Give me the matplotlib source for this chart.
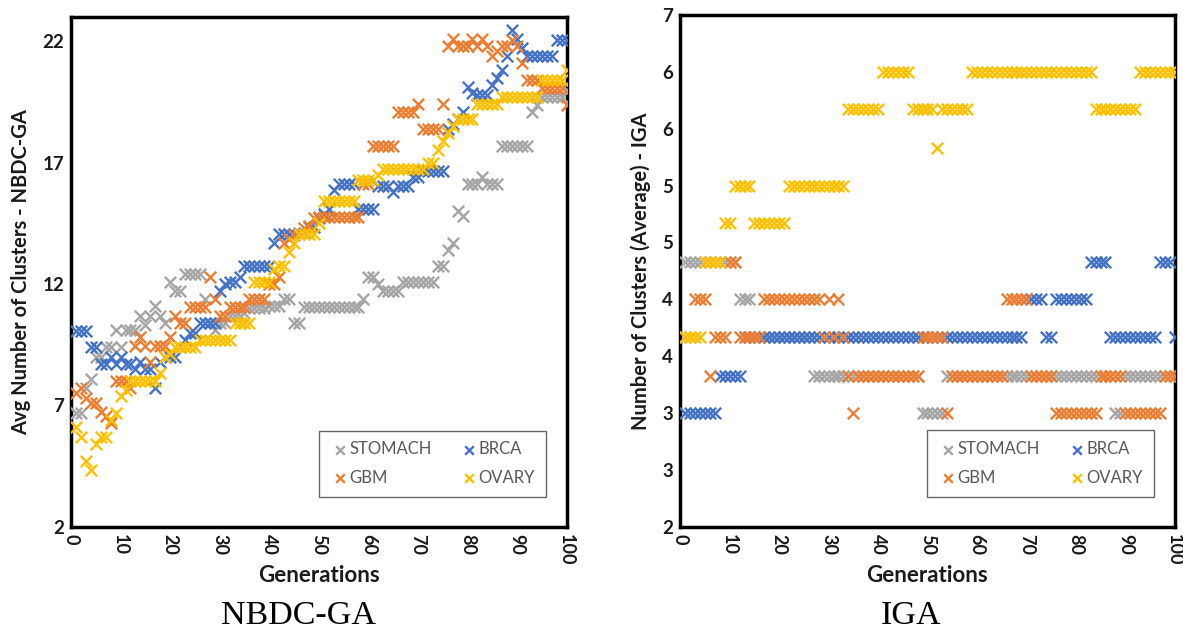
import matplotlib
matplotlib.use("Agg")
from matplotlib import pyplot as plt

plt.rcParams['font.family'] = ['Lato', 'DejaVu Sans']

gens = list(range(1, 101))
names = ['STOMACH', 'BRCA', 'GBM', 'OVARY']
colors = ['#A5A5A5', '#4472C4', '#ED7D31', '#FFC000']

# NBDC-GA, avg clusters per generation
nb_stomach = [6.7, 6.7, 7.7, 8.1, 9.0, 9.0, 9.4, 9.4, 10.1, 9.4,
              10.1, 10.1, 10.1, 10.7, 10.3, 10.7, 11.1, 10.7, 10.4, 12.1,
              11.7, 11.7, 12.4, 12.4, 12.4, 12.4, 11.4, 10.4, 10.1, 10.4,
              10.4, 10.7, 10.7, 10.7, 10.8, 11.0, 11.0, 11.0, 11.0, 11.1,
              11.1, 11.1, 11.4, 11.4, 10.4, 10.4, 11.05, 11.05, 11.05, 11.05,
              11.05, 11.05, 11.05, 11.05, 11.05, 11.05, 11.05, 11.05, 11.4, 12.3,
              12.3, 12.0, 11.7, 11.7, 11.7, 11.7, 12.1, 12.1, 12.1, 12.1,
              12.1, 12.1, 12.1, 12.75, 12.75, 13.4, 13.7, 15.0, 14.8, 16.1,
              16.1, 16.1, 16.4, 16.1, 16.1, 16.1, 17.7, 17.7, 17.7, 17.7,
              17.7, 17.7, 19.1, 19.35, 19.7, 19.7, 19.7, 19.7, 19.7, 20.0]
nb_brca = [10.06, 10.06, 10.06, 9.4, 9.4, 8.7, 8.7, 9.0, 8.7, 9.0,
           8.7, 8.7, 8.5, 8.8, 8.5, 8.5, 7.7, 8.8, 9.0, 9.0,
           9.0, 9.4, 9.7, 10.0, 10.0, 10.4, 10.4, 10.4, 10.4, 11.7,
           12.0, 12.1, 12.1, 12.3, 12.75, 12.75, 12.75, 12.75, 12.75, 12.75,
           13.7, 14.07, 14.07, 14.07, 14.07, 14.07, 14.1, 14.35, 14.35, 14.7,
           14.9, 15.1, 15.85, 16.1, 16.1, 16.1, 16.1, 15.1, 15.1, 15.1,
           15.1, 16.05, 16.05, 16.05, 15.8, 16.05, 16.05, 16.05, 16.4, 16.4,
           16.65, 16.65, 16.65, 16.65, 16.65, 18.4, 18.6, 18.8, 19.1, 20.1,
           19.85, 19.8, 19.8, 19.8, 20.2, 20.5, 20.8, 21.4, 22.45, 22.1,
           21.7, 21.4, 21.4, 21.4, 21.4, 21.4, 21.4, 22.05, 22.05, 22.05]
nb_gbm = [7.5, 7.7, 7.3, 7.1, 7.1, 6.75, 6.55, 6.3, 8.0, 8.0,
          8.0, 7.7, 9.45, 9.8, 9.45, 8.8, 9.45, 9.45, 9.45, 9.8,
          10.7, 10.4, 10.4, 11.05, 11.05, 11.05, 11.05, 12.3, 11.4, 10.7,
          10.7, 11.05, 11.05, 11.05, 11.05, 11.4, 11.4, 11.4, 11.4, 12.0,
          12.0, 12.3, 13.7, 13.85, 14.0, 14.1, 14.3, 14.4, 14.7, 14.77,
          14.77, 14.77, 14.77, 14.77, 14.77, 14.77, 14.77, 14.77, 16.1, 16.1,
          17.7, 17.7, 17.7, 17.7, 17.7, 19.07, 19.07, 19.07, 19.07, 19.4,
          18.4, 18.4, 18.4, 18.4, 19.4, 21.8, 22.1, 21.8, 21.8, 21.8,
          22.1, 21.8, 22.1, 21.8, 21.4, 21.6, 21.8, 21.8, 22.05, 21.8,
          21.1, 20.4, 20.4, 20.4, 20.05, 20.05, 20.05, 20.05, 20.05, 19.35]
nb_ovary = [6.1, 5.7, 4.7, 4.35, 5.4, 5.7, 5.7, 6.4, 6.7, 7.4,
            7.65, 8.0, 8.0, 8.0, 8.0, 8.0, 8.0, 8.35, 9.0, 9.1,
            9.4, 9.4, 9.4, 9.4, 9.4, 9.7, 9.7, 9.7, 9.7, 9.7,
            9.7, 9.7, 10.4, 10.4, 10.4, 10.4, 12.1, 12.1, 12.1, 12.1,
            12.6, 12.75, 12.75, 13.3, 13.7, 14.07, 14.07, 14.07, 14.07, 14.5,
            15.4, 15.4, 15.4, 15.4, 15.4, 15.4, 15.4, 16.3, 16.3, 16.3,
            16.3, 16.5, 16.75, 16.75, 16.75, 16.75, 16.75, 16.75, 16.75, 16.75,
            16.75, 17.0, 17.0, 17.5, 17.9, 18.2, 18.5, 18.8, 18.8, 18.8,
            18.8, 19.4, 19.4, 19.4, 19.4, 19.4, 19.7, 19.7, 19.7, 19.7,
            19.7, 19.7, 19.7, 19.7, 20.4, 20.4, 20.4, 20.4, 20.4, 20.8]

# IGA, avg clusters per generation
iga_stomach = [4.33, 4.33, 4.33, 4.33, 4.33, 4.33, 4.33, 4.33, 4.33, 4.33,
               4.33, 4.0, 4.0, 4.0, 3.67, 3.67, 3.67, 3.67, 3.67, 3.67,
               3.67, 3.67, 3.67, 3.67, 3.67, 3.67, 3.33, 3.33, 3.33, 3.33,
               3.33, 3.33, 3.33, 3.33, 3.33, 3.33, 3.33, 3.33, 3.33, 3.33,
               3.33, 3.33, 3.33, 3.33, 3.33, 3.33, 3.33, 3.33, 3.0, 3.0,
               3.0, 3.0, 3.0, 3.33, 3.33, 3.33, 3.33, 3.33, 3.33, 3.33,
               3.33, 3.33, 3.33, 3.33, 3.33, 3.33, 3.33, 3.33, 3.33, 3.33,
               3.33, 3.33, 3.33, 3.33, 3.33, 3.33, 3.33, 3.33, 3.33, 3.33,
               3.33, 3.33, 3.33, 3.33, 3.33, 3.33, 3.33, 3.0, 3.0, 3.33,
               3.33, 3.33, 3.33, 3.33, 3.33, 3.33, 3.33, 3.33, 3.33, 3.33]
iga_brca = [3.0, 3.0, 3.0, 3.0, 3.0, 3.0, 3.0, 3.33, 3.33, 3.33,
            3.33, 3.33, 3.67, 3.67, 3.67, 3.67, 3.67, 3.67, 3.67, 3.67,
            3.67, 3.67, 3.67, 3.67, 3.67, 3.67, 3.67, 3.67, 3.67, 3.67,
            3.67, 3.67, 3.67, 3.67, 3.67, 3.67, 3.67, 3.67, 3.67, 3.67,
            3.67, 3.67, 3.67, 3.67, 3.67, 3.67, 3.67, 3.67, 3.67, 3.67,
            3.67, 3.67, 3.67, 3.67, 3.67, 3.67, 3.67, 3.67, 3.67, 3.67,
            3.67, 3.67, 3.67, 3.67, 3.67, 3.67, 3.67, 3.67, 3.67, 4.0,
            4.0, 4.0, 4.0, 3.67, 3.67, 4.0, 4.0, 4.0, 4.0, 4.0,
            4.0, 4.0, 4.33, 4.33, 4.33, 4.33, 3.67, 3.67, 3.67, 3.67,
            3.67, 3.67, 3.67, 3.67, 3.67, 3.67, 4.33, 4.33, 4.33, 3.67]
iga_gbm = [3.67, 3.67, 4.0, 4.0, 4.0, 3.33, 3.67, 3.67, 3.67, 4.33,
           4.33, 3.67, 3.67, 3.67, 3.67, 3.67, 4.0, 4.0, 4.0, 4.0,
           4.0, 4.0, 4.0, 4.0, 4.0, 4.0, 4.0, 4.0, 3.67, 4.0,
           3.67, 4.0, 3.67, 3.33, 3.0, 3.33, 3.33, 3.33, 3.33, 3.33,
           3.33, 3.33, 3.33, 3.33, 3.33, 3.33, 3.33, 3.33, 3.67, 3.67,
           3.67, 3.67, 3.67, 3.0, 3.33, 3.33, 3.33, 3.33, 3.33, 3.33,
           3.33, 3.33, 3.33, 3.33, 3.33, 4.0, 4.0, 4.0, 4.0, 4.0,
           3.33, 3.33, 3.33, 3.33, 3.33, 3.0, 3.0, 3.0, 3.0, 3.0,
           3.0, 3.0, 3.0, 3.0, 3.33, 3.33, 3.33, 3.33, 3.33, 3.0,
           3.0, 3.0, 3.0, 3.0, 3.0, 3.0, 3.0, 3.33, 3.33, 3.33]
iga_ovary = [3.67, 3.67, 3.67, 3.67, 4.33, 4.33, 4.33, 4.33, 4.67, 4.67,
             5.0, 5.0, 5.0, 5.0, 4.67, 4.67, 4.67, 4.67, 4.67, 4.67,
             4.67, 5.0, 5.0, 5.0, 5.0, 5.0, 5.0, 5.0, 5.0, 5.0,
             5.0, 5.0, 5.0, 5.67, 5.67, 5.67, 5.67, 5.67, 5.67, 5.67,
             6.0, 6.0, 6.0, 6.0, 6.0, 6.0, 5.67, 5.67, 5.67, 5.67,
             5.67, 5.33, 5.67, 5.67, 5.67, 5.67, 5.67, 5.67, 6.0, 6.0,
             6.0, 6.0, 6.0, 6.0, 6.0, 6.0, 6.0, 6.0, 6.0, 6.0,
             6.0, 6.0, 6.0, 6.0, 6.0, 6.0, 6.0, 6.0, 6.0, 6.0,
             6.0, 6.0, 6.0, 5.67, 5.67, 5.67, 5.67, 5.67, 5.67, 5.67,
             5.67, 5.67, 6.0, 6.0, 6.0, 6.0, 6.0, 6.0, 6.0, 6.0]

left_yticks = [2, 7, 12, 17, 22]
right_yticks = [2, 2.5, 3, 3.5, 4, 4.5, 5, 5.5, 6, 6.5]
right_ylabels = ['2', '3', '3', '4', '4', '5', '5', '6', '6', '7']
xticks = [0, 10, 20, 30, 40, 50, 60, 70, 80, 90, 100]

fig = plt.figure(figsize=(11.83, 6.33), dpi=100)
ax1 = fig.add_axes([0.060, 0.1675, 0.419, 0.806])
ax2 = fig.add_axes([0.575, 0.1675, 0.418, 0.809])


def draw(ax, series, ylabel):
    hs = []
    for vals, name, col in zip(series, names, colors):
        h = ax.scatter(gens, vals, marker='x', s=68, linewidths=1.7,
                       color=col, label=name, zorder=3)
        hs.append(h)
    ax.set_xlim(0, 100)
    ax.set_xticks(xticks)
    ax.set_xticklabels([str(t) for t in xticks], rotation=270,
                       fontsize=13, fontweight='bold', color='#1a1a1a')
    ax.tick_params(length=0, pad=5)
    for sp in ax.spines.values():
        sp.set_linewidth(2.5)
        sp.set_color('black')
    ax.set_xlabel('Generations', fontsize=16, fontweight='bold',
                  color='#1a1a1a', labelpad=0)
    ax.set_ylabel(ylabel, fontsize=14.5, fontweight='bold', color='#1a1a1a',
                  labelpad=8)
    # legend: two rows, STOMACH/BRCA on top
    order = [hs[0], hs[2], hs[1], hs[3]]
    leg = ax.legend(order, [h.get_label() for h in order], ncol=2,
                    loc='lower right', bbox_to_anchor=(0.975, 0.043),
                    fontsize=12, frameon=True, fancybox=False,
                    handletextpad=0.0, columnspacing=1.6, borderpad=0.65,
                    labelspacing=0.75, handlelength=1.2, markerscale=0.75)
    leg.get_frame().set_edgecolor('#404040')
    leg.get_frame().set_linewidth(1.0)
    for t in leg.get_texts():
        t.set_color('#595959')
    return hs


draw(ax1, [nb_stomach, nb_brca, nb_gbm, nb_ovary],
     'Avg Number of Clusters - NBDC-GA')
ax1.set_ylim(2, 23)
ax1.set_yticks(left_yticks)
ax1.set_yticklabels([str(t) for t in left_yticks], fontsize=13.5,
                    fontweight='bold', color='#1a1a1a')

draw(ax2, [iga_stomach, iga_brca, iga_gbm, iga_ovary],
     'Number of Clusters (Average) - IGA')
ax2.set_ylim(2, 6.5)
ax2.set_yticks(right_yticks)
ax2.set_yticklabels(right_ylabels, fontsize=13.5, fontweight='bold',
                    color='#1a1a1a')

fig.text(0.252, 0.028, 'NBDC-GA', fontsize=24.5, family='Liberation Serif',
         ha='center', va='center')
fig.text(0.770, 0.028, 'IGA', fontsize=24.5, family='Liberation Serif',
         ha='center', va='center')

fig.savefig('out.png', dpi=100)
